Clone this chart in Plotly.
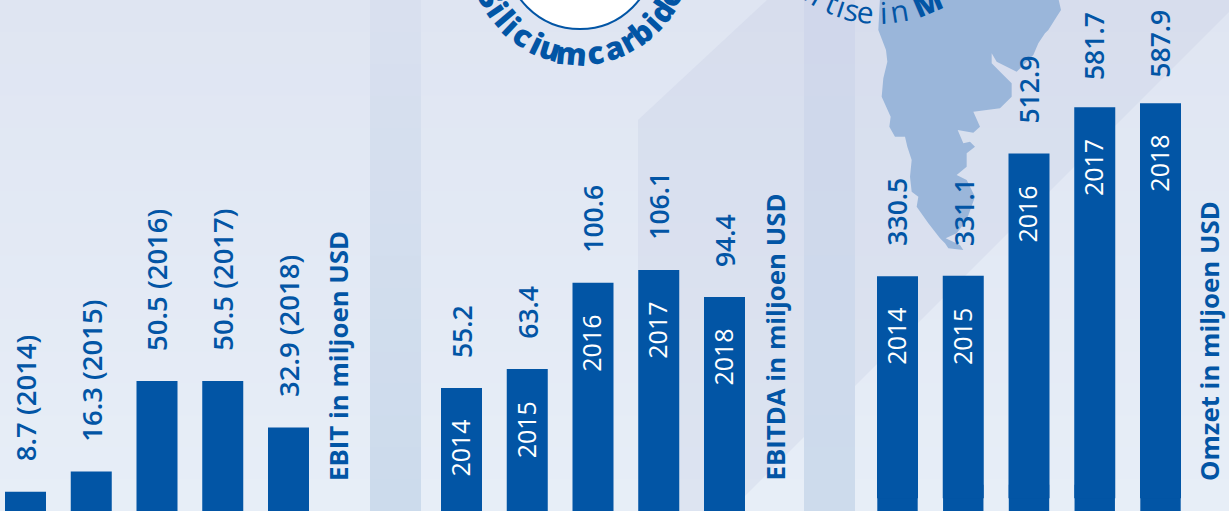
import math
import plotly.graph_objects as go

W, H = 1229, 511
years = ["2014", "2015", "2016", "2017", "2018"]
ebit = [8.7, 16.3, 50.5, 50.5, 32.9]
ebitda = [55.2, 63.4, 100.6, 106.1, 94.4]
omzet = [330.5, 331.1, 512.9, 581.7, 587.9]
ebit_title = "EBIT in miljoen USD"
ebitda_title = "EBITDA in miljoen USD"
omzet_title = "Omzet in miljoen USD"
BLUE = "#0255a5"
FONT = "Open Sans"

def px(x): return x / W
def py(y): return 1 - y / H
def mix(a, b, t): return "rgb(%d,%d,%d)" % tuple(round(a[i] + (b[i] - a[i]) * t) for i in range(3))

fig = go.Figure()
shapes, annotations = [], []

def rect(x0, y0, x1, y1, color):
    shapes.append(dict(type="rect", xref="paper", yref="paper", x0=px(x0), x1=px(x1), y0=py(y0), y1=py(y1),
                       fillcolor=color, line_width=0, layer="below"))

def poly(points, color, lw=0, lc=None):
    d = "M" + "L".join(f"{px(x):.5f},{py(y):.5f}" for x, y in points) + "Z"
    shapes.append(dict(type="path", xref="paper", yref="paper", path=d, fillcolor=color,
                       line=dict(width=lw, color=lc or color), layer="below"))

N = 16
for i in range(N):
    t = (i + .5) / N
    rect(0, H * i / N, W, H * (i + 1) / N + 1, mix((223, 229, 242), (231, 238, 247), t))

poly([(638, 120), (767, 0), (1229, 0), (1229, 12), (730, 511), (638, 511)], "rgba(190,198,225,0.25)")

for i in range(N):
    t = (i + .5) / N
    rect(370, H * i / N, 421, H * (i + 1) / N + 1, mix((217, 224, 239), (204, 219, 236), t))
    rect(804, H * i / N, 855, H * (i + 1) / N + 1, mix((208, 215, 235), (205, 219, 236), t))

coast = [(240,-5),(235,90),(258,150),(262,185),(250,235),(245,290),(272,350),(268,380),(285,410),(315,410),(322,440),
         (335,480),(330,530),(335,575),(355,590),(350,620),(385,670),(420,715),(435,730),(445,745),(490,750),(480,735),
         (437,715),(470,700),(500,660),(525,590),(500,540),(470,525),(500,500),(500,460),(525,440),(510,425),(490,430),
         (473,390),(520,398),(540,380),(520,335),(600,325),(635,290),(635,250),(610,225),(575,190),(575,160),(590,185),
         (650,215),(700,165),(715,130),(735,100),(745,90),(770,50),(783,30),(775,-5)]
poly([(800 + x / 3, y / 3) for x, y in coast], "#9ab6da")

cx, cy, R = 580, -45.5, 74.5
shapes.append(dict(type="circle", xref="paper", yref="paper", x0=px(cx - R), x1=px(cx + R), y0=py(cy + R), y1=py(cy - R),
                   fillcolor="white", line=dict(color=BLUE, width=2), layer="below"))

def arc_text(text, angles, size, cx, cy, r, weights):
    for ch, deg, w in zip(text, angles, weights):
        if ch == " ":
            continue
        th = math.radians(deg)
        annotations.append(dict(xref="paper", yref="paper", x=px(cx + r * math.sin(th)), y=py(cy + r * math.cos(th)),
                                text=ch, showarrow=False, textangle=-deg, xanchor="center", yanchor="middle",
                                font=dict(family=FONT, size=size, color=BLUE, weight=w)))

arc_text("Siliciumcarbide",
         [-64, -55.9, -49.6, -43.6, -34.8, -25.9, -17.5, -5, 9.2, 20.1, 29.2, 38, 46.8, 55.3, 64.9],
         31, 580, -45.5, 98.5, [800] * 15)
arc_text("ertise in M", [-37, -29.8, -23.2, -18.3, -13.5, -6.8, 0, 1.8, 9.2, 0, 23],
         30, 880, -108, 120.5, [400] * 10 + [800])

panels = [
    ("x", "y", ebit, 0, 370, 25.5, 1.4, 2.65, 27.5),
    ("x2", "y2", ebitda, 370, 804, 461.5, 2.2, 2.32, 26.5),
    ("x3", "y3", omzet, 804, 1229, 897.5, -19, 0.672, 26.5),
]
PITCH = 65.75
layout_axes = {}
for n, (xa, ya, vals, d0, d1, first, v0, k, fs) in enumerate(panels):
    if v0 < 0:  # the bars run on past the crop's lower edge
        fig.add_trace(go.Bar(x=years, y=[v0 * 2 - 20] * len(years), base=20, xaxis=xa, yaxis=ya,
                             marker=dict(color=BLUE, line_width=0, opacity=1),
                             width=40.4 / PITCH, showlegend=False, hoverinfo="skip"))
    fig.add_trace(go.Bar(x=years, y=vals, xaxis=xa, yaxis=ya, marker=dict(color=BLUE, line_width=0, opacity=1),
                         width=41 / PITCH, showlegend=False, hoverinfo="x+y"))
    xname = "xaxis" + ("" if n == 0 else str(n + 1))
    yname = "yaxis" + ("" if n == 0 else str(n + 1))
    layout_axes[xname] = dict(domain=[px(d0), px(d1)], type="category", categoryorder="array", categoryarray=years,
                              range=[(d0 - first) / PITCH, (d1 - first) / PITCH], visible=False, anchor=ya)
    layout_axes[yname] = dict(domain=[0, 1], range=[v0, v0 + H / k], visible=False, anchor=xa)
    for i, (y_, v) in enumerate(zip(years, vals)):
        label = f"{v} ({y_})" if n == 0 else f"{v}"
        nudge = 5 if v > 585 else 3 if v > 580 else 0
        annotations.append(dict(xref=xa, yref=ya, x=i, y=v, text=label, showarrow=False, textangle=-90,
                                xanchor="center", yanchor="bottom", yshift=28 - nudge,
                                font=dict(family=FONT, size=fs, color=BLUE, weight=600)))
        if n > 0:
            annotations.append(dict(xref=xa, yref=ya, x=i, y=v, text=y_, showarrow=False, textangle=-90,
                                    xanchor="center", yanchor="top", yshift=-30, xshift=-1.5,
                                    font=dict(family=FONT, size=25, color="white")))

for text, x in [(ebit_title, 338), (ebitda_title, 774), (omzet_title, 1209)]:
    annotations.append(dict(xref="paper", yref="paper", x=px(x), y=py(483), text="<b>%s</b>" % text, showarrow=False,
                            textangle=-90, xanchor="center", yanchor="bottom",
                            font=dict(family=FONT, size=25.8, color=BLUE)))

fig.update_layout(width=W, height=H, autosize=False, margin=dict(l=0, r=0, t=0, b=0),
                  paper_bgcolor="#e3e9f4", plot_bgcolor="rgba(0,0,0,0)", shapes=shapes, annotations=annotations,
                  barmode="overlay", showlegend=False, **layout_axes)
fig.write_html("out.html", config=dict(displayModeBar=False), post_script="document.body.style.margin='0';")
